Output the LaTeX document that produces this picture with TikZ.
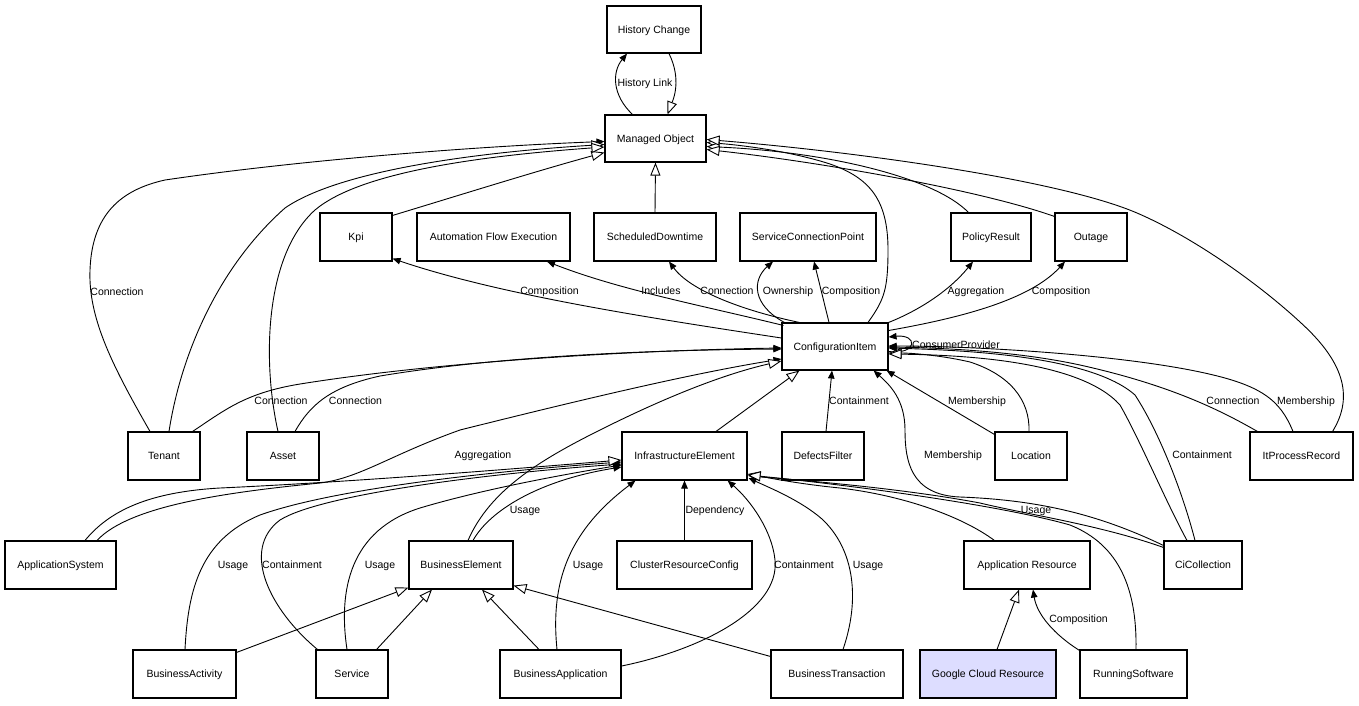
\documentclass[tikz,border=0pt]{standalone}
\usepackage{fontspec}
\setmainfont{Liberation Sans}
\usetikzlibrary{arrows.meta,calc}
\definecolor{gcrfill}{HTML}{DDDDFF}
\begin{document}
\begin{tikzpicture}[x=1pt,y=-1pt,
  box/.style={draw, line width=1.1pt, fill=white, minimum height=48pt, inner sep=0pt,
    text height=8pt, text depth=1pt, font=\fontsize{10.5}{12}\selectfont},
  lbl/.style={inner sep=0pt, text height=8pt, text depth=1pt, font=\fontsize{10.5}{12}\selectfont},
  conn/.style={line width=0.9pt},
  assoc/.style={conn, -{Triangle[length=8pt,width=6.5pt]}},
  gen/.style={conn, -{Triangle[length=13pt,width=10pt,fill=white]}},
]
\useasboundingbox (0,0) rectangle (1359,705);
\fill[white] (0,0) rectangle (1359,705);

% ---------- nodes ----------
\node[box, minimum width=94pt, minimum height=47pt] (hc) at (654,29.5) {History Change};
\node[box, minimum width=101pt, minimum height=47pt] (mo) at (655.5,138.5) {Managed Object};
\node[box, minimum width=72pt] (kpi) at (356,237) {Kpi};
\node[box, minimum width=153pt] (afe) at (493.5,237) {Automation Flow Execution};
\node[box, minimum width=122pt] (sd) at (655,237) {ScheduledDowntime};
\node[box, minimum width=136pt] (scp) at (808,237) {ServiceConnectionPoint};
\node[box, minimum width=80pt] (pr) at (991,237) {PolicyResult};
\node[box, minimum width=72pt] (out) at (1091,237) {Outage};
\node[box, minimum width=106pt, minimum height=47pt] (ci) at (835,346.5) {ConfigurationItem};
\node[box, minimum width=72pt] (ten) at (164,456) {Tenant};
\node[box, minimum width=72pt] (asset) at (283,456) {Asset};
\node[box, minimum width=125pt] (ie) at (684.5,456) {InfrastructureElement};
\node[box, minimum width=82pt] (df) at (823,456) {DefectsFilter};
\node[box, minimum width=72pt] (loc) at (1031,456) {Location};
\node[box, minimum width=103pt] (ipr) at (1301.5,456) {ItProcessRecord};
\node[box, minimum width=111pt] (as) at (60.5,565) {ApplicationSystem};
\node[box, minimum width=104pt] (be) at (461,565) {BusinessElement};
\node[box, minimum width=135pt] (crc) at (684.5,565) {ClusterResourceConfig};
\node[box, minimum width=126pt] (ar) at (1027,565) {Application Resource};
\node[box, minimum width=78pt] (cic) at (1203,565) {CiCollection};
\node[box, minimum width=103pt] (bact) at (184.5,674) {BusinessActivity};
\node[box, minimum width=72pt] (svc) at (352,674) {Service};
\node[box, minimum width=121pt] (bapp) at (560.5,674) {BusinessApplication};
\node[box, minimum width=132pt] (btx) at (837,674) {BusinessTransaction};
\node[box, minimum width=136pt, fill=gcrfill] (gcr) at (988,674) {Google Cloud Resource};
\node[box, minimum width=107pt] (rs) at (1133.5,674) {RunningSoftware};

% ---------- Managed Object ----------
\draw[gen] ($(hc.south)+(15,0)$) .. controls (682,80) and (673,100) .. ($(mo.north)+(12,0)$);
\draw[assoc] ($(mo.north)+(-23,0)$) .. controls (612,95) and (612,72) .. ($(hc.south)+(-27,0)$);
\draw[gen] (sd.north) -- (mo.south);
\draw[gen] ($(kpi.north east)+(0,3)$) .. controls (460,195) and (540,170) .. ($(mo.west)+(0,14)$);
\draw[assoc] ($(ten.north)+(-14,0)$) .. controls (115,370) and (88,320) .. (90,270)
  .. controls (92,215) and (120,190) .. (165,180) .. controls (300,160) and (480,146) .. ($(mo.west)+(0,3)$);
\draw[gen] ($(ten.north)+(5,0)$) .. controls (180,360) and (215,270) .. (285,208)
  .. controls (340,170) and (480,152) .. ($(mo.west)+(0,6)$);
\draw[gen] ($(asset.north)+(-5,0)$) .. controls (262,360) and (265,255) .. (315,210)
  .. controls (360,172) and (480,156) .. ($(mo.west)+(0,8.5)$);
\draw[gen] ($(ci.north)+(33,0)$) .. controls (884,300) and (888,290) .. (888,250)
  .. controls (888,200) and (870,178) .. (830,164) .. controls (790,151) and (740,145) .. ($(mo.east)+(0,4)$);
\draw[gen] ($(pr.north west)+(18,0)$) .. controls (935,178) and (830,152) .. ($(mo.east)+(0,8)$);
\draw[gen] ($(out.north west)+(0,4)$) .. controls (980,190) and (820,162) .. ($(mo.east)+(0,11)$);
\draw[gen] ($(ipr.north east)+(-21,0)$) .. controls (1355,395) and (1342,360) .. (1300,322)
  .. controls (1260,285) and (1195,238) .. (1137,213) .. controls (1060,180) and (860,152) .. ($(mo.east)+(0,1)$);

% ---------- ConfigurationItem outgoing ----------
\draw[assoc] ($(ci.west)+(0,-8.5)$) .. controls (650,318) and (500,295) .. ($(kpi.south east)+(0,-3)$);
\draw[assoc] ($(ci.north west)+(2,3)$) .. controls (700,305) and (620,290) .. ($(afe.south)+(53.5,0)$);
\draw[assoc] ($(ci.north west)+(18,0)$) .. controls (740,310) and (690,290) .. ($(sd.south)+(14,0)$);
\draw[assoc] ($(ci.north west)+(3,0)$) .. controls (752,305) and (752,280) .. ($(scp.south)+(-35,0)$);
\draw[assoc] ($(ci.north)+(-6,0)$) -- ($(scp.south)+(6,0)$);
\draw[assoc] (ci.north east) .. controls (920,310) and (950,290) .. ($(pr.south)+(-18,0)$);
\draw[assoc] ($(ci.east)+(0,-16)$) .. controls (960,318) and (1030,300) .. ($(out.south)+(-26,0)$);
\draw[assoc] ($(ci.east)+(0,5)$) .. controls (918,355) and (918,334) .. ($(ci.east)+(0,-9.5)$);

% ---------- into ConfigurationItem ----------
\draw[assoc] ($(ten.north east)+(-8,0)$) .. controls (225,410) and (245,393) .. (300,384)
  .. controls (450,360) and (650,350) .. ($(ci.west)+(0,1.5)$);
\draw[assoc] ($(asset.north)+(12,0)$) .. controls (310,405) and (330,387) .. (380,376)
  .. controls (500,356) and (650,350) .. ($(ci.west)+(0,2.5)$);
\draw[assoc] ($(as.north)+(36.5,0)$) .. controls (130,505) and (230,492) .. (320,483)
  .. controls (360,478) and (390,455) .. (460,430) .. controls (600,395) and (700,372) .. ($(ci.west)+(0,12.5)$);
\draw[gen] ($(be.north)+(7,0)$) .. controls (490,490) and (540,460) .. (600,430)
  .. controls (660,400) and (720,375) .. ($(ci.west)+(0,14.5)$);
\draw[assoc] ($(df.north)+(3,0)$) -- ($(ci.south)+(-3,0)$);
\draw[gen] ($(ie.north)+(31.5,0)$) -- ($(ci.south west)+(18,0)$);
\draw[assoc] ($(loc.north west)+(0,3)$) -- ($(ci.south east)+(-2,0)$);
\draw[assoc] ($(cic.north west)+(0,5)$) .. controls (1100,515) and (1040,500) .. (960,497)
  .. controls (910,495) and (905,460) .. (905,430) .. controls (905,400) and (890,385) .. ($(ci.south east)+(-15,0)$);
\draw[assoc] ($(cic.north)+(-8,0)$) .. controls (1182,490) and (1158,430) .. (1135,395)
  .. controls (1090,355) and (960,350) .. ($(ci.east)+(0,1.5)$);
\draw[assoc] ($(ipr.north west)+(8,0)$) .. controls (1220,410) and (1170,385) .. (1080,365)
  .. controls (1020,352) and (950,348) .. ($(ci.east)+(0,0.5)$);
\draw[assoc] ($(ipr.north)+(-8.5,0)$) .. controls (1280,400) and (1262,385) .. (1200,372)
  .. controls (1120,355) and (980,346) .. ($(ci.east)+(0,-0.5)$);
\draw[gen] ($(loc.north)+(-2,0)$) .. controls (1030,400) and (1010,375) .. (970,362)
  .. controls (940,355) and (910,353) .. ($(ci.east)+(0,6.5)$);
\draw[gen] ($(cic.north)+(-16,0)$) .. controls (1165,500) and (1140,440) .. (1120,405)
  .. controls (1080,360) and (960,355) .. ($(ci.east)+(0,7.5)$);

% ---------- into InfrastructureElement ----------
\draw[assoc] ($(bact.north)+(0.5,0)$) .. controls (188,590) and (200,540) .. (260,515)
  .. controls (330,490) and (480,472) .. ($(ie.west)+(0,6)$);
\draw[assoc] ($(svc.north west)+(2,0)$) .. controls (270,610) and (240,550) .. (280,520)
  .. controls (320,495) and (480,474) .. ($(ie.west)+(0,8)$);
\draw[assoc] ($(svc.north)+(-5,0)$) .. controls (338,590) and (350,530) .. (420,508)
  .. controls (480,490) and (560,475) .. ($(ie.west)+(0,9)$);
\draw[assoc] ($(be.north)+(12,0)$) .. controls (490,510) and (540,480) .. ($(ie.west)+(0,11)$);
\draw[gen] ($(as.north)+(24.5,0)$) .. controls (110,510) and (150,492) .. (220,488)
  .. controls (350,482) and (500,470) .. ($(ie.west)+(0,4)$);
\draw[assoc] ($(bapp.north)+(-3.5,0)$) .. controls (550,580) and (570,530) .. ($(ie.south west)+(14,0)$);
\draw[assoc] (crc.north) -- (ie.south);
\draw[assoc] ($(bapp.east)+(0,-8)$) .. controls (700,650) and (780,610) .. (775,560)
  .. controls (772,530) and (750,500) .. ($(ie.south east)+(-20,0)$);
\draw[assoc] ($(btx.north)+(6,0)$) .. controls (860,600) and (855,550) .. (822,519)
  .. controls (800,500) and (770,488) .. ($(ie.east)+(1,22)$);
\draw[assoc] ($(cic.north west)+(0,7)$) .. controls (1100,525) and (1030,515) .. (980,503)
  .. controls (900,488) and (800,480) .. ($(ie.east)+(1,20)$);
\draw[gen] ($(ar.north west)+(31,0)$) .. controls (960,515) and (900,495) .. (840,488)
  .. controls (800,484) and (775,479) .. ($(ie.east)+(0,18)$);
\draw[gen] ($(rs.north)+(2.5,0)$) .. controls (1137,590) and (1120,545) .. (1070,525)
  .. controls (1000,505) and (850,485) .. ($(ie.east)+(0,19)$);

% ---------- BusinessElement / Application Resource ----------
\draw[gen] ($(bact.north east)+(0,3)$) -- ($(be.south west)+(0,-2)$);
\draw[gen] ($(svc.north east)+(-12,0)$) -- ($(be.south)+(-29,0)$);
\draw[gen] ($(bapp.north)+(-21.5,0)$) -- ($(be.south)+(21,0)$);
\draw[gen] ($(btx.north west)+(0,7)$) -- ($(be.south east)+(0,-4)$);
\draw[gen] ($(gcr.north)+(9,0)$) -- ($(ar.south)+(-8,0)$);
\draw[assoc] ($(rs.north west)+(0,1)$) .. controls (1055,635) and (1037,615) .. ($(ar.south)+(6,0)$);

% ---------- labels ----------
\node[lbl] (l1) at (645,83) {History Link};
\node[lbl] (l2) at (117,292) {Connection};
\node[lbl] (l3) at (549.5,291) {Composition};
\node[lbl] (l4) at (661,291) {Includes};
\node[lbl] (l5) at (727,291) {Connection};
\node[lbl] (l6) at (788,291) {Ownership};
\node[lbl] (l7) at (851,291) {Composition};
\node[lbl] (l8) at (976,291) {Aggregation};
\node[lbl] (l9) at (1061,291) {Composition};
\node[lbl] (l10) at (956,345) {ConsumerProvider};
\node[lbl] (l11) at (281,401) {Connection};
\node[lbl] (l12) at (355.5,401) {Connection};
\node[lbl] (l13) at (859,401) {Containment};
\node[lbl] (l14) at (977,401) {Membership};
\node[lbl] (l15) at (1233,401) {Connection};
\node[lbl] (l16) at (1306,401) {Membership};
\node[lbl] (l17) at (483,455) {Aggregation};
\node[lbl] (l18) at (953,455) {Membership};
\node[lbl] (l19) at (1202,455) {Containment};
\node[lbl] (l20) at (525,510) {Usage};
\node[lbl] (l21) at (715,510) {Dependency};
\node[lbl] (l22) at (1036,510) {Usage};
\node[lbl] (l23) at (233,565) {Usage};
\node[lbl] (l24) at (292,565) {Containment};
\node[lbl] (l25) at (380,565) {Usage};
\node[lbl] (l26) at (588,565) {Usage};
\node[lbl] (l27) at (804,565) {Containment};
\node[lbl] (l28) at (868,565) {Usage};
\node[lbl] (l29) at (1078.5,619) {Composition};
\end{tikzpicture}
\end{document}
